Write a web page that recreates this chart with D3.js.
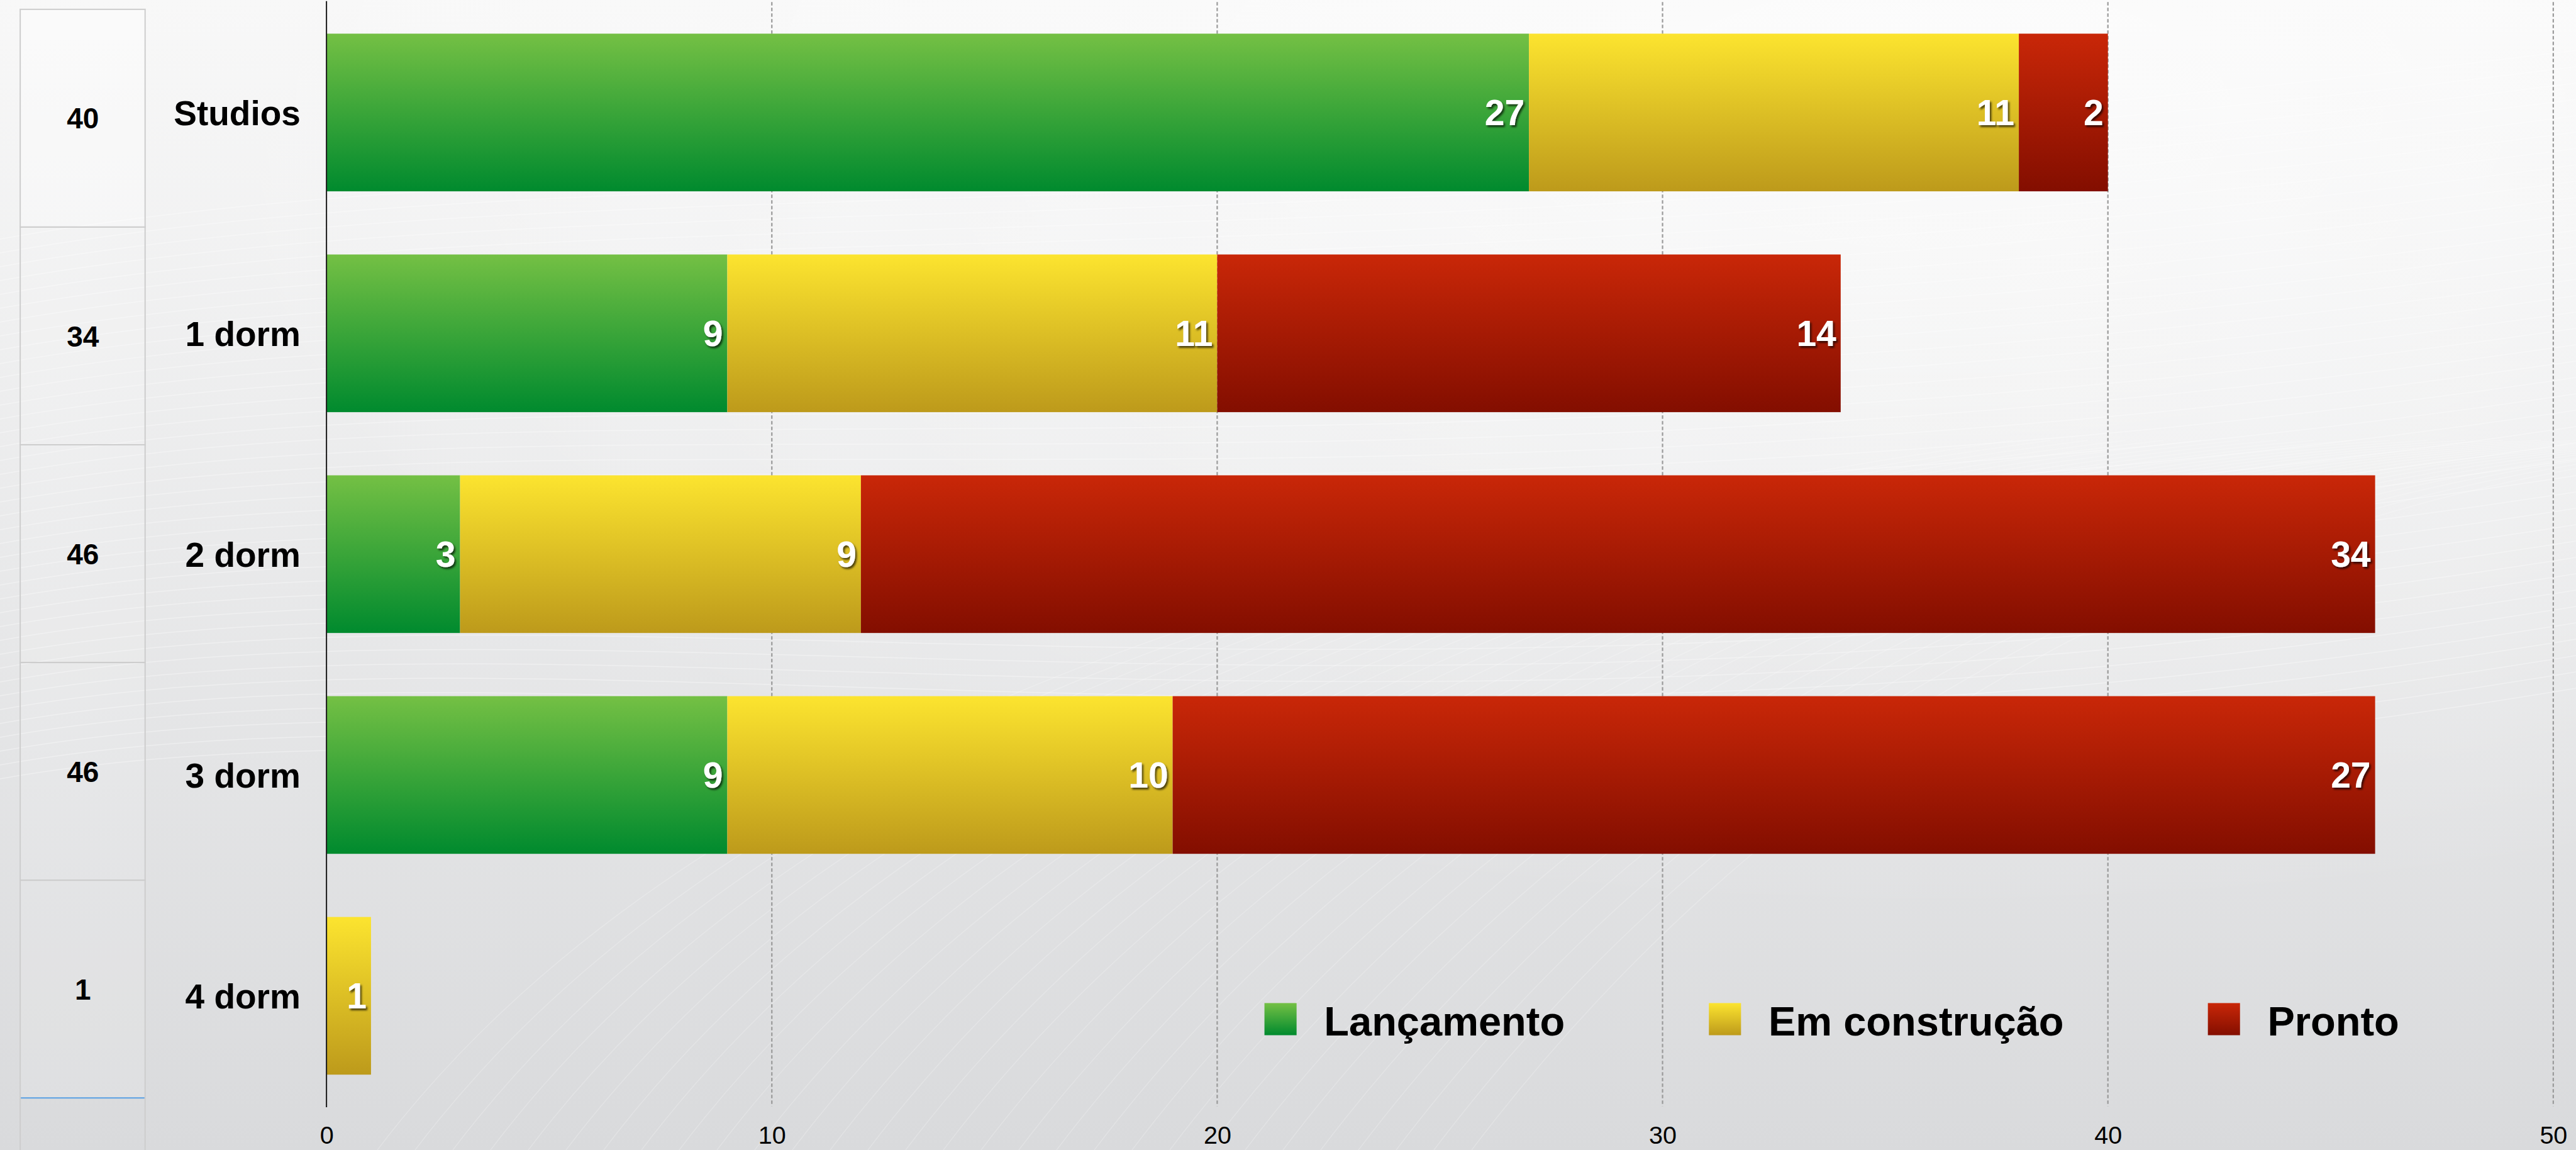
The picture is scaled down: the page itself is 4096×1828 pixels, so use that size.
<!DOCTYPE html>
<html><head><meta charset="utf-8">
<script src="https://cdn.jsdelivr.net/npm/d3@7"></script>
<style>html,body{margin:0;padding:0;overflow:hidden;background:#eee}</style>
</head><body>
<svg id="chart" width="4096" height="1828"></svg>
<script>
// ---- data ----
const categories = ["Studios", "1 dorm", "2 dorm", "3 dorm", "4 dorm"];
const seriesNames = ["Lançamento", "Em construção", "Pronto"];
const lancamento = [27, 9, 3, 9, 0];
const construcao = [11, 11, 9, 10, 1];
const pronto = [2, 14, 34, 27, 0];
const xTicks = [0, 10, 20, 30, 40, 50];

// ---- setup ----
const W = 4096, H = 1828, s = 0.824;
const FONT = "'Liberation Sans', Arial, Helvetica, sans-serif";
const svg = d3.select("#chart");
const defs = svg.append("defs");

function vgrad(id, top, bottom) {
  const g = defs.append("linearGradient").attr("id", id).attr("x1", 0).attr("y1", 0).attr("x2", 0).attr("y2", 1);
  g.append("stop").attr("offset", "0%").attr("stop-color", top);
  g.append("stop").attr("offset", "100%").attr("stop-color", bottom);
}
vgrad("bg", "#f8f8f8", "#d9dadc");
vgrad("gGreen", "#74c044", "#008a2e");
vgrad("gYellow", "#fce42f", "#bd9a1b");
vgrad("gRed", "#c92708", "#830e00");
const fills = ["url(#gGreen)", "url(#gYellow)", "url(#gRed)"];

const shadow = defs.append("filter").attr("id", "tshadow").attr("x", "-30%").attr("y", "-30%").attr("width", "160%").attr("height", "160%");
shadow.append("feDropShadow").attr("dx", 2.5).attr("dy", 3).attr("stdDeviation", 1.6)
  .attr("flood-color", "#000").attr("flood-opacity", 0.65);

// background
svg.append("rect").attr("width", W).attr("height", H).attr("fill", "url(#bg)");
const bgRad = defs.append("radialGradient").attr("id", "bgGlow").attr("cx", "0.75").attr("cy", "0.1").attr("r", "0.7");
bgRad.append("stop").attr("offset", "0%").attr("stop-color", "#ffffff").attr("stop-opacity", 0.6);
bgRad.append("stop").attr("offset", "100%").attr("stop-color", "#ffffff").attr("stop-opacity", 0);
svg.append("rect").attr("width", W).attr("height", H).attr("fill", "url(#bgGlow)");
// decorative swooshes
const deco = svg.append("g").attr("fill", "none").attr("stroke", "#ffffff").attr("stroke-opacity", 0.35).attr("stroke-width", 1.5);
for (let i = 0; i < 40; i++) {
  const y0 = 380 + i * 22;
  deco.append("path").attr("d", `M0,${y0} C${900},${y0 - 160} ${2200},${y0 - 60 + i * 6} ${4096},${y0 - 300 + i * 4}`);
}
for (let i = 0; i < 30; i++) {
  const x0 = 600 + i * 60;
  deco.append("path").attr("stroke-opacity", 0.22).attr("d", `M${x0},1828 C${x0 + 400},1300 ${x0 + 1200},${900 - i * 10} ${x0 + 2600},700`);
}

// ---- scales ----
const x0 = 630 * s;
const x = d3.scaleLinear().domain([0, 50]).range([x0, 4927 * s]);
const y = d3.scaleBand().domain(categories).range([4 * s, 2134 * s]).paddingInner(0.286).paddingOuter(0.143);
const tableY = d3.scaleBand().domain(categories).range([18 * s, 2118 * s]);

// ---- left totals table ----
const totals = categories.map((c, i) => lancamento[i] + construcao[i] + pronto[i]);
const tblX0 = 39 * s, tblX1 = 280 * s;
const tbl = svg.append("g");
tbl.selectAll("rect.row").data(categories).join("rect")
  .attr("x", tblX0).attr("y", d => tableY(d)).attr("width", tblX1 - tblX0).attr("height", tableY.bandwidth())
  .attr("fill", (d, i) => i === 0 ? "rgba(255,255,255,0.35)" : "rgba(255,255,255,0.12)")
  .attr("stroke", "#cdcdcd").attr("stroke-width", 2);
tbl.append("line").attr("x1", tblX0).attr("x2", tblX0).attr("y1", tableY.range()[1]).attr("y2", H).attr("stroke", "#cdcdcd").attr("stroke-width", 2);
tbl.append("line").attr("x1", tblX1).attr("x2", tblX1).attr("y1", tableY.range()[1]).attr("y2", H).attr("stroke", "#cdcdcd").attr("stroke-width", 2);
tbl.append("line").attr("x1", tblX0 + 1).attr("x2", tblX1 - 1).attr("y1", tableY.range()[1]).attr("y2", tableY.range()[1]).attr("stroke", "#5aa2e6").attr("stroke-width", 2);
tbl.selectAll("text").data(categories).join("text")
  .attr("x", 160 * s).attr("y", d => tableY(d) + tableY.bandwidth() / 2)
  .attr("dy", "0.36em").attr("text-anchor", "middle")
  .attr("font-family", FONT).attr("font-weight", "bold").attr("font-size", 46).attr("fill", "#000")
  .text((d, i) => totals[i]);

// ---- gridlines ----
const grid = svg.append("g");
grid.selectAll("line").data(xTicks.filter(t => t > 0)).join("line")
  .attr("x1", d => x(d)).attr("x2", d => x(d))
  .attr("y1", 4 * s).attr("y2", 2134 * s)
  .attr("stroke", "#9a9a9a").attr("stroke-width", 2.2).attr("stroke-dasharray", "5.5,3.5");

// ---- x axis ----
const xAxis = d3.axisBottom(x).tickValues(xTicks).tickSize(0).tickPadding(0).tickFormat(d3.format("d"));
const ax = svg.append("g").attr("transform", `translate(0,${2189 * s})`).call(xAxis);
ax.select(".domain").remove();
ax.selectAll("text").attr("font-family", FONT).attr("font-size", 39.5).attr("fill", "#000").attr("dy", "0.36em");

// ---- stacked bars ----
const rows = categories.map((c, i) => ({ cat: c, "Lançamento": lancamento[i], "Em construção": construcao[i], "Pronto": pronto[i] }));
const stacked = d3.stack().keys(seriesNames)(rows);
const barsG = svg.append("g");
stacked.forEach((layer, si) => {
  barsG.append("g").selectAll("rect").data(layer.filter(d => d[1] - d[0] > 0)).join("rect")
    .attr("x", d => x(d[0])).attr("y", d => y(d.data.cat))
    .attr("width", d => x(d[1]) - x(d[0])).attr("height", y.bandwidth())
    .attr("fill", fills[si]);
});
// value labels
const labG = svg.append("g").attr("filter", "url(#tshadow)");
stacked.forEach((layer, si) => {
  labG.append("g").selectAll("text").data(layer.filter(d => d[1] - d[0] > 0)).join("text")
    .attr("x", d => x(d[1]) - 7).attr("y", d => y(d.data.cat) + y.bandwidth() / 2)
    .attr("dy", "0.36em").attr("text-anchor", "end")
    .attr("font-family", FONT).attr("font-weight", "bold").attr("font-size", 57).attr("fill", "#fff")
    .text(d => d[1] - d[0]);
});

// ---- y axis line + category labels ----
svg.append("line").attr("x1", x0).attr("x2", x0).attr("y1", 2 * s).attr("y2", 2136 * s).attr("stroke", "#1a1a1a").attr("stroke-width", 2);
svg.append("g").selectAll("text").data(categories).join("text")
  .attr("x", 580 * s).attr("y", d => y(d) + y.bandwidth() / 2).attr("dy", "0.36em")
  .attr("text-anchor", "end").attr("font-family", FONT).attr("font-weight", "bold").attr("font-size", 55).attr("fill", "#000")
  .text(d => d);

// ---- legend ----
const leg = svg.append("g");
let lx = 2440 * s;
const swatch = 62 * s, legBase = 1997 * s;
seriesNames.forEach((name, i) => {
  leg.append("rect").attr("x", lx).attr("y", legBase - swatch).attr("width", swatch).attr("height", swatch).attr("fill", fills[i]);
  const t = leg.append("text").attr("x", lx + 115 * s).attr("y", legBase)
    .attr("font-family", FONT).attr("font-weight", "bold").attr("font-size", 65).attr("fill", "#000").text(name);
  lx = lx + 115 * s + t.node().getComputedTextLength() + 278 * s;
});
</script>
</body></html>
